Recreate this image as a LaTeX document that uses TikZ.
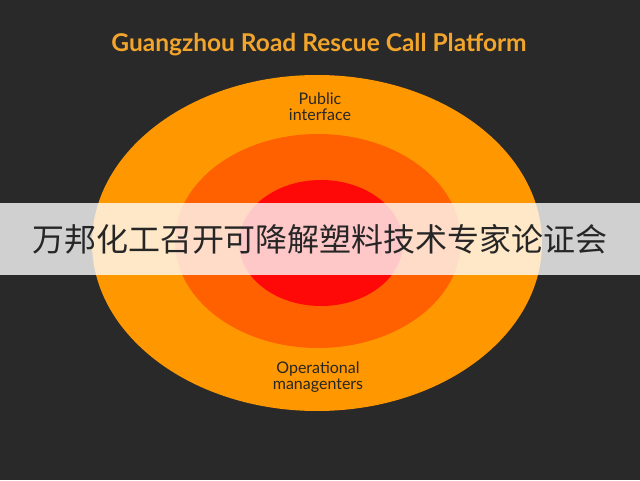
\documentclass[tikz,border=0pt]{standalone}
\usepackage{fontspec}
\setmainfont{Lato}
\newfontfamily\cjk{Noto Sans CJK SC}
\definecolor{outerc}{HTML}{FF9800}
\definecolor{midc}{HTML}{FF6000}
\definecolor{innerc}{HTML}{FF0808}
\definecolor{titlec}{HTML}{F2A52A}
\begin{document}
\begin{tikzpicture}[x=1pt,y=1pt,
  lbl/.style={font=\fontsize{16}{16}\selectfont, text=black!85, align=center}]
\useasboundingbox (0,0) rectangle (640,480);
\fill[black!84] (0,0) rectangle (640,480);
\fill[outerc] (317,237) ellipse [x radius=225, y radius=168];
\fill[midc] (318,239) ellipse [x radius=143, y radius=107];
\fill[innerc] (321,237) ellipse [x radius=82, y radius=63];
\node[font=\bfseries\fontsize{24.5}{26}\selectfont, text=titlec] (title) at (319,435) {Guangzhou Road Rescue Call Platform};
\node[lbl] (pub) at (320,373) {Public\\interface};
\node[lbl] (ops) at (318,103) {Operational\\managenters};
\fill[white, opacity=0.78] (0,205) rectangle (640,277);
\node[font=\cjk\fontsize{32}{34}\selectfont, text=black!85] (band) at (320,241) {万邦化工召开可降解塑料技术专家论证会};
\end{tikzpicture}
\end{document}
